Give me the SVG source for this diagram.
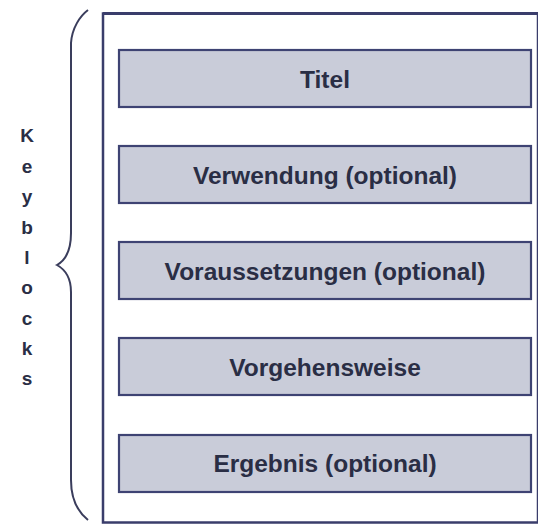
<svg xmlns="http://www.w3.org/2000/svg" width="538" height="525" viewBox="0 0 538 525">
<style>
.box{fill:#c9ccd9;stroke:#3e4373;stroke-width:2.2}
.lbl{font-family:"Liberation Sans",Arial,sans-serif;font-weight:bold;font-size:24.5px;fill:#2a2e45;text-anchor:middle}
.kb{font-family:"Liberation Sans",Arial,sans-serif;font-weight:bold;font-size:19px;fill:#2a2e45;text-anchor:middle}
.frame{fill:#ffffff;stroke:#3a3d6b;stroke-width:2.5}
.brace{fill:none;stroke:#3a3d5c;stroke-width:2}
</style>
<rect x="0" y="0" width="538" height="525" fill="#ffffff"/>
<g id="frame">
<rect class="frame" x="103" y="13.5" width="435" height="509"/>
<line x1="103" y1="13.5" x2="538" y2="13.5" stroke="#3a3d6b" stroke-width="3.2"/>
</g>
<g id="brace">
<path class="brace" d="M88,10 C80,16 72,28 71,43 L71,233 C71,250 66,260 57,265 C66,270 71,280 71,292 L71,480 C71,500 78,512 88,520"/>
</g>
<g id="keyblocks">
<text class="kb" x="27" y="142">K</text>
<text class="kb" x="27" y="172.5">e</text>
<text class="kb" x="27" y="203">y</text>
<text class="kb" x="27" y="233.5">b</text>
<text class="kb" x="27" y="263.5">l</text>
<text class="kb" x="27" y="294">o</text>
<text class="kb" x="27" y="324.5">c</text>
<text class="kb" x="27" y="354.5">k</text>
<text class="kb" x="27" y="385">s</text>
</g>
<g id="titel">
<rect class="box" x="119" y="50" width="412" height="57"/>
<text class="lbl" x="325" y="87.5">Titel</text>
</g>
<g id="verwendung">
<rect class="box" x="119" y="146" width="412" height="57"/>
<text class="lbl" x="325" y="183.5">Verwendung (optional)</text>
</g>
<g id="voraussetzungen">
<rect class="box" x="119" y="242" width="412" height="57"/>
<text class="lbl" x="325" y="279.5">Voraussetzungen (optional)</text>
</g>
<g id="vorgehensweise">
<rect class="box" x="119" y="338" width="412" height="57"/>
<text class="lbl" x="325" y="375.5">Vorgehensweise</text>
</g>
<g id="ergebnis">
<rect class="box" x="119" y="435" width="412" height="57"/>
<text class="lbl" x="325" y="472">Ergebnis (optional)</text>
</g>
<g id="connectors"></g>
</svg>
